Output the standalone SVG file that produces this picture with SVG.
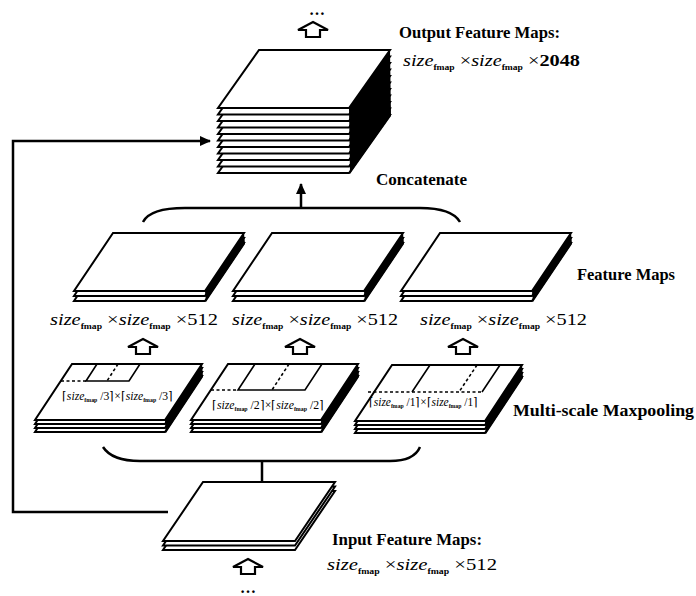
<svg xmlns="http://www.w3.org/2000/svg" width="696" height="596" viewBox="0 0 696 596">
<style>
.sh{fill:#fff;stroke:#000;stroke-width:2;stroke-linejoin:miter}
.band{fill:#000}
.ln{fill:none;stroke:#000;stroke-width:2.5}
.thin{fill:none;stroke:#000;stroke-width:1.6}
.dash{fill:none;stroke:#000;stroke-width:1.6;stroke-dasharray:3 2.5}
.ua{fill:#fff;stroke:#000;stroke-width:2.2;stroke-linejoin:miter}
.tb{font-family:"Liberation Serif","Times New Roman",serif;font-weight:bold;font-size:17px;fill:#000}
.f{font-family:"Liberation Serif","Times New Roman",serif;font-size:17px;fill:#000}
.it{font-style:italic}
.sub{font-size:8px;font-weight:bold}
.pl{font-family:"Liberation Serif","Times New Roman",serif;font-size:12px;fill:#000}
.psub{font-size:6px;font-weight:bold}
.dots{font-family:"Liberation Serif","Times New Roman",serif;font-weight:bold;font-size:16px;fill:#000}
</style>
<defs>
<path id="sO" class="sh" d="M41,0 H172 L131,58 H0 Z"/>
<path id="sF" class="sh" d="M39,0 H170 L131,58 H0 Z"/>
<path id="sP" class="sh" d="M37,0 H167 L130,56 H0 Z"/>
<path id="sI" class="sh" d="M40,0 H172 L132,59 H0 Z"/>
<path id="ua" class="ua" d="M0,0 L15,8 L7,8 L7,15 L-7,15 L-7,8 L-15,8 Z"/>
<marker id="ah" markerUnits="userSpaceOnUse" markerWidth="11" markerHeight="10" refX="10" refY="5" orient="auto">
<path d="M0,0 L11,5 L0,10 Z" fill="#000"/>
</marker>
</defs>

<g id="connectors">
<path class="ln" d="M168,512 H13 V141 H210" marker-end="url(#ah)"/>
<path class="ln" d="M143,222 Q150,208 185,208 L420,208 Q452,208 460,222"/>
<path class="ln" d="M301,208 V184" marker-end="url(#ah)"/>
<path class="ln" d="M103,447 Q112,461 140,461 L390,461 Q414,461 420,447"/>
<path class="ln" d="M262,461 V482"/>
<use href="#ua" transform="translate(313,22)"/>
<use href="#ua" transform="translate(143,339)"/>
<use href="#ua" transform="translate(300,339)"/>
<use href="#ua" transform="translate(463,339)"/>
<use href="#ua" transform="translate(248,559)"/>
<text class="dots" x="317" y="15" text-anchor="middle">…</text>
<text class="dots" x="248" y="593" text-anchor="middle">…</text>
</g>

<g id="output-maps">
<g transform="translate(218,50)">
<use href="#sO" y="65"/><use href="#sO" y="58.5"/><use href="#sO" y="52"/><use href="#sO" y="45.5"/><use href="#sO" y="39"/>
<use href="#sO" y="32.5"/><use href="#sO" y="26"/><use href="#sO" y="19.5"/><use href="#sO" y="13"/><use href="#sO" y="6.5"/>
<path class="band" d="M172,0 L173,66 L132,124 L131,58 Z"/>
<use href="#sO"/>
</g>
<text class="tb" x="399" y="38" textLength="161" lengthAdjust="spacingAndGlyphs">Output Feature Maps:</text>
<text class="f" x="403" y="66" textLength="177" lengthAdjust="spacingAndGlyphs"><tspan class="it">size</tspan><tspan class="sub" dy="4">fmap</tspan><tspan dy="-4"> ×</tspan><tspan class="it">size</tspan><tspan class="sub" dy="4">fmap</tspan><tspan dy="-4"> ×</tspan><tspan font-weight="bold">2048</tspan></text>
<text class="tb" x="376" y="185" textLength="91" lengthAdjust="spacingAndGlyphs">Concatenate</text>
</g>

<g id="feature-map-1">
<g transform="translate(74,233)">
<use href="#sF" y="10"/><use href="#sF" y="5"/>
<path class="band" d="M170,0 L171,11 L132,69 L131,58 Z"/>
<use href="#sF"/>
</g>
<text class="f" x="50" y="325" textLength="168" lengthAdjust="spacingAndGlyphs"><tspan class="it">size</tspan><tspan class="sub" dy="4">fmap</tspan><tspan dy="-4"> ×</tspan><tspan class="it">size</tspan><tspan class="sub" dy="4">fmap</tspan><tspan dy="-4"> ×512</tspan></text>
</g>

<g id="feature-map-2">
<g transform="translate(233,233)">
<use href="#sF" y="10"/><use href="#sF" y="5"/>
<path class="band" d="M170,0 L171,11 L132,69 L131,58 Z"/>
<use href="#sF"/>
</g>
<text class="f" x="232" y="325" textLength="166" lengthAdjust="spacingAndGlyphs"><tspan class="it">size</tspan><tspan class="sub" dy="4">fmap</tspan><tspan dy="-4"> ×</tspan><tspan class="it">size</tspan><tspan class="sub" dy="4">fmap</tspan><tspan dy="-4"> ×512</tspan></text>
</g>

<g id="feature-map-3">
<g transform="translate(401,233)">
<use href="#sF" y="10"/><use href="#sF" y="5"/>
<path class="band" d="M170,0 L171,11 L132,69 L131,58 Z"/>
<use href="#sF"/>
</g>
<text class="f" x="420" y="325" textLength="167" lengthAdjust="spacingAndGlyphs"><tspan class="it">size</tspan><tspan class="sub" dy="4">fmap</tspan><tspan dy="-4"> ×</tspan><tspan class="it">size</tspan><tspan class="sub" dy="4">fmap</tspan><tspan dy="-4"> ×512</tspan></text>
<text class="tb" x="577" y="280" textLength="98" lengthAdjust="spacingAndGlyphs">Feature Maps</text>
</g>

<g id="pool-1">
<g transform="translate(35,364)">
<use href="#sP" y="12"/><use href="#sP" y="8"/><use href="#sP" y="4"/>
<path class="band" d="M167,0 L168,13 L131,69 L130,56 Z"/>
<use href="#sP"/>
</g>
<path class="thin" d="M97,364 L86,381 L129,381 L140,364"/>
<path class="dash" d="M118,364 L107,381 M61,381 L86,381"/>
<text class="pl" x="62" y="400" textLength="111" lengthAdjust="spacingAndGlyphs">⌈<tspan class="it">size</tspan><tspan class="psub" dy="2">fmap</tspan><tspan dy="-2"> /3⌉×⌈</tspan><tspan class="it">size</tspan><tspan class="psub" dy="2">fmap</tspan><tspan dy="-2"> /3⌉</tspan></text>
</g>

<g id="pool-2">
<g transform="translate(191,364)">
<use href="#sP" y="12"/><use href="#sP" y="8"/><use href="#sP" y="4"/>
<path class="band" d="M167,0 L168,13 L131,69 L130,56 Z"/>
<use href="#sP"/>
</g>
<path class="thin" d="M255,364 L238,390 L305,390 L322,364"/>
<path class="dash" d="M289,364 L272,390 M211,390 L238,390"/>
<text class="pl" x="212" y="409" textLength="112" lengthAdjust="spacingAndGlyphs">⌈<tspan class="it">size</tspan><tspan class="psub" dy="2">fmap</tspan><tspan dy="-2"> /2⌉×⌈</tspan><tspan class="it">size</tspan><tspan class="psub" dy="2">fmap</tspan><tspan dy="-2"> /2⌉</tspan></text>
</g>

<g id="pool-3">
<g transform="translate(355,365)">
<use href="#sP" y="12"/><use href="#sP" y="8"/><use href="#sP" y="4"/>
<path class="band" d="M167,0 L168,13 L131,69 L130,56 Z"/>
<use href="#sP"/>
</g>
<path class="thin" d="M430,365 L412,392 M500,365 L482,392"/>
<path class="dash" d="M477,365 L459,392 M368,392 L482,392"/>
<text class="pl" x="369" y="406" textLength="109" lengthAdjust="spacingAndGlyphs">⌈<tspan class="it">size</tspan><tspan class="psub" dy="2">fmap</tspan><tspan dy="-2"> /1⌉×⌈</tspan><tspan class="it">size</tspan><tspan class="psub" dy="2">fmap</tspan><tspan dy="-2"> /1⌉</tspan></text>
<text class="tb" x="513" y="416" textLength="181" lengthAdjust="spacingAndGlyphs">Multi-scale Maxpooling</text>
</g>

<g id="input-maps">
<g transform="translate(163,482)">
<use href="#sI" y="9"/><use href="#sI" y="4.5"/>
<use href="#sI"/>
</g>
<text class="tb" x="332" y="545" textLength="150" lengthAdjust="spacingAndGlyphs">Input Feature Maps:</text>
<text class="f" x="327" y="570" textLength="170" lengthAdjust="spacingAndGlyphs"><tspan class="it">size</tspan><tspan class="sub" dy="4">fmap</tspan><tspan dy="-4"> ×</tspan><tspan class="it">size</tspan><tspan class="sub" dy="4">fmap</tspan><tspan dy="-4"> ×512</tspan></text>
</g>
</svg>
